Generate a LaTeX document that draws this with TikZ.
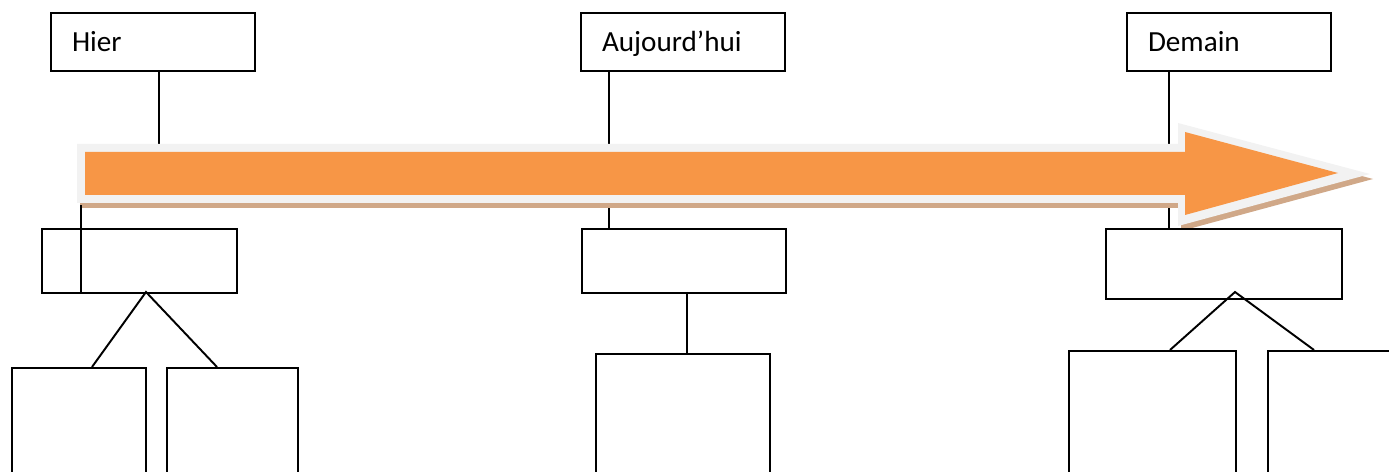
\documentclass[tikz,border=0pt]{standalone}
\usepackage{fontspec}
\setmainfont{Carlito}
\definecolor{TimeOrange}{RGB}{247, 150, 70}
\definecolor{TimeRim}{RGB}{242, 242, 242}
\definecolor{TimeShade}{RGB}{208, 168, 136}
\usetikzlibrary{calc}

\begin{document}
\begin{tikzpicture}[x=0.02cm, y=-0.02cm,
        datebox/.style={rectangle, draw, fill=white, line width=1.1pt, minimum width=4.08cm, minimum height=1.16cm,
            inner xsep=0.42cm, text width=3.24cm, align=left, text height=10.7pt, text depth=0pt,
            font=\fontsize{16.6}{20}\selectfont},
        topic/.style={rectangle, draw, fill=white, line width=1.1pt, anchor=north west},
        leaf/.style={rectangle, draw, fill=white, line width=1.1pt, anchor=north west, minimum height=3.2cm},
        link/.style={line width=1.1pt}
    ]
        \useasboundingbox (0,0) rectangle (1389,472);
        \clip (0,0) rectangle (1389,472);

        % dates
        \node[datebox] (hier) at (153,42) {Hier};
        \node[datebox] (today) at (683,42) {Aujourd’hui};
        \node[datebox] (demain) at (1229,42) {Demain};

        % first level
        \node[topic, minimum width=3.9cm, minimum height=1.28cm] (past) at (41,228) {};
        \node[topic, minimum width=4.08cm, minimum height=1.28cm] (now) at (581,228) {};
        \node[topic, minimum width=4.72cm, minimum height=1.4cm] (next) at (1105,228) {};

        % points on the time arrow
        \coordinate (tHier) at (159,144);
        \coordinate (tToday) at (609,144);
        \coordinate (tDemain) at (1169,144);
        \coordinate (tStart) at (81,205);

        \draw[link] (tHier |- hier.south) -- (tHier);
        \draw[link] (tToday |- today.south) -- (tToday |- now.north);
        \draw[link] (tDemain |- demain.south) -- (tDemain |- next.north);

        % time arrow
        \fill[TimeShade] (80,149) -- (1181,149) -- (1181,128) -- (1373,179) -- (1181,231) -- (1181,208) -- (80,208) -- cycle;
        \fill[TimeRim] (77,144) -- (1178,144) -- (1178,123) -- (1370,174) -- (1178,226) -- (1178,203) -- (77,203) -- cycle;
        \fill[TimeOrange] (85,152) -- (1185,152) -- (1185,132) -- (1338,173) -- (1185,215) -- (1185,195) -- (85,195) -- cycle;

        % redraw the first level over the arrow
        \node[topic, minimum width=3.9cm, minimum height=1.28cm] at (41,228) {};
        \node[topic, minimum width=4.08cm, minimum height=1.28cm] at (581,228) {};
        \node[topic, minimum width=4.72cm, minimum height=1.4cm] at (1105,228) {};

        % second level
        \node[leaf, minimum width=2.68cm] (pastA) at (11,367) {};
        \node[leaf, minimum width=2.62cm] (pastB) at (166,367) {};
        \node[leaf, minimum width=3.48cm] (nowA) at (595,353) {};
        \node[leaf, minimum width=3.34cm] (nextA) at (1068,350) {};
        \node[leaf, minimum width=3.06cm] (nextB) at (1267,350) {};

        \coordinate (forkPast) at (146,292);
        \coordinate (forkNow) at (687,292);
        \coordinate (forkNext) at (1235,292);

        \draw[link] (tStart) -- (tStart |- past.south);
        \draw[link] ($(pastA.north west)+(81,0)$) -- (forkPast) -- ($(pastB.north west)+(51,0)$);
        \draw[link] (forkNow) -- (forkNow |- nowA.north);
        \draw[link] ($(nextA.north west)+(102,0)$) -- (forkNext) -- ($(nextB.north west)+(47,0)$);
    \end{tikzpicture}
\end{document}
